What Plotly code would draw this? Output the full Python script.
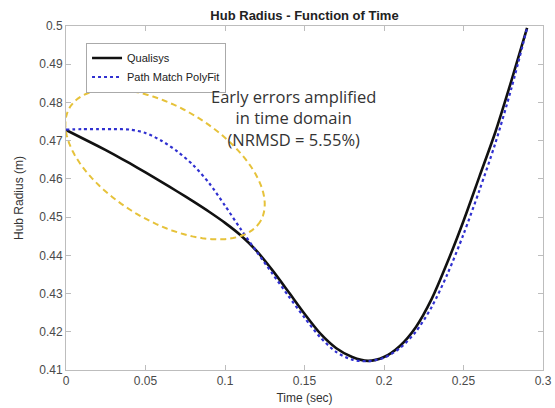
import numpy as np
import plotly.graph_objects as go

# ---- data ----
time_sec = [0.00, 0.01, 0.02, 0.03, 0.04, 0.05, 0.06, 0.07, 0.08, 0.09,
            0.10, 0.11, 0.12, 0.13, 0.14, 0.15, 0.16, 0.17, 0.18, 0.19,
            0.20, 0.21, 0.22, 0.23, 0.24, 0.25, 0.26, 0.27, 0.28, 0.29]

qualisys = [0.4728, 0.4707, 0.4686, 0.4664, 0.4641, 0.4617, 0.4592, 0.4567, 0.4541, 0.4514,
            0.4485, 0.4452, 0.4411, 0.4360, 0.4304, 0.4247, 0.4195, 0.4157, 0.4134, 0.4124,
            0.4134, 0.4163, 0.4212, 0.4286, 0.4383, 0.4490, 0.4606, 0.4722, 0.4855, 0.4995]

polyfit = [0.4729, 0.4730, 0.4730, 0.4730, 0.4729, 0.4720, 0.4700, 0.4672, 0.4636, 0.4589,
           0.4530, 0.4468, 0.4409, 0.4351, 0.4293, 0.4237, 0.4185, 0.4147, 0.4127, 0.4123,
           0.4132, 0.4157, 0.4200, 0.4265, 0.4352, 0.4455, 0.4570, 0.4693, 0.4835, 0.4995]

x_ticks = [0, 0.05, 0.1, 0.15, 0.2, 0.25, 0.3]
x_tick_labels = ["0", "0.05", "0.1", "0.15", "0.2", "0.25", "0.3"]
y_ticks = [0.41, 0.42, 0.43, 0.44, 0.45, 0.46, 0.47, 0.48, 0.49, 0.5]
y_tick_labels = ["0.41", "0.42", "0.43", "0.44", "0.45", "0.46", "0.47", "0.48", "0.49", "0.5"]

series_names = ["Qualisys", "Path Match PolyFit"]
title_text = "Hub Radius - Function of Time"
note_text = "Early errors amplified<br>in time domain<br>(NRMSD = 5.55%)"

# ---- highlight ellipse (annotation) ----
px_per_x = 1590.0   # pixels per 1.0 of x
px_per_y = 3822.0   # pixels per 1.0 of y
cx, cy = 0.0623, 0.4638
a_px, b_px, theta = 111.0, 57.0, np.deg2rad(30.8)
tt = np.linspace(0, 2 * np.pi, 121)
dx = a_px * np.cos(theta) * np.cos(tt) - b_px * np.sin(theta) * np.sin(tt)
dy = a_px * np.sin(theta) * np.cos(tt) + b_px * np.cos(theta) * np.sin(tt)
ex = cx + dx / px_per_x
ey = cy - dy / px_per_y
path = "M " + " L ".join(f"{x:.5f},{y:.5f}" for x, y in zip(ex, ey)) + " Z"

FONT = "Arial, Liberation Sans, sans-serif"

fig = go.Figure()
fig.add_trace(go.Scatter(
    x=time_sec, y=qualisys, mode="lines", name=series_names[0],
    line=dict(color="#111111", width=2.6, shape="spline", smoothing=0.8),
))
fig.add_trace(go.Scatter(
    x=time_sec, y=polyfit, mode="lines", name=series_names[1],
    line=dict(color="#3030d0", width=2.2, dash="dot", shape="spline", smoothing=0.8),
))

fig.add_shape(type="path", path=path, xref="x", yref="y",
              line=dict(color="#E6C23A", width=2, dash="6px,4px"), layer="above")

fig.add_annotation(
    x=0.1428, y=0.4760, xref="x", yref="y", text=note_text, showarrow=False,
    font=dict(family="Open Sans, Lato, sans-serif", size=16.5, color="#333333"),
    align="center", xanchor="center", yanchor="middle",
)

axis_common = dict(
    showline=True, linecolor="#bdbdbd", linewidth=1, mirror="ticks",
    ticks="inside", ticklen=5, tickcolor="#bdbdbd", showgrid=False, zeroline=False,
    automargin=False,
    tickfont=dict(family=FONT, size=12, color="#4a4a4a"),
)

fig.update_layout(
    width=555, height=408,
    margin=dict(l=66, r=12, t=26, b=38, autoexpand=False),
    paper_bgcolor="white", plot_bgcolor="white",
    title=dict(text=title_text, x=0.5, xref="paper", y=1 - 15 / 408, yref="container",
               yanchor="middle", automargin=False,
               font=dict(family=FONT, size=13, color="#222222", weight="bold")),
    xaxis=dict(range=[0, 0.3], tickvals=x_ticks, ticktext=x_tick_labels,
               title=dict(text="Time (sec)", standoff=6,
                          font=dict(family=FONT, size=12, color="#333333")),
               **axis_common),
    yaxis=dict(range=[0.41, 0.5], tickvals=y_ticks, ticktext=y_tick_labels,
               title=dict(text="Hub Radius (m)", standoff=13,
                          font=dict(family=FONT, size=12, color="#333333")),
               **axis_common),
    legend=dict(x=0.042, y=0.952, xanchor="left", yanchor="top",
                bgcolor="white", bordercolor="#aaaaaa", borderwidth=1,
                font=dict(family=FONT, size=11, color="#222222"),
                tracegroupgap=0, itemwidth=30),
    showlegend=True,
)

fig.write_html(
    "out.html",
    config={"displayModeBar": False},
    post_script="document.body.style.margin='0px'; document.body.style.overflow='hidden';",
)
